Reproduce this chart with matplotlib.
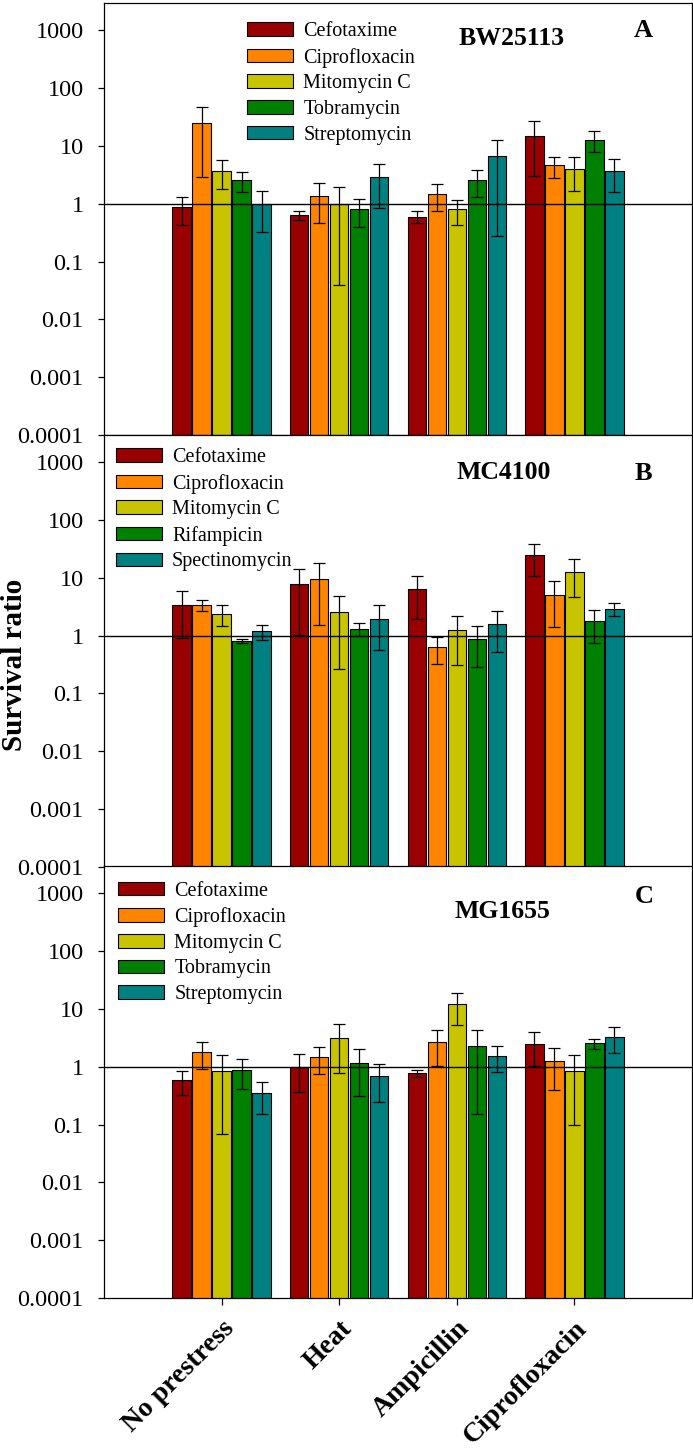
import numpy as np
import matplotlib
matplotlib.use("Agg")
from matplotlib import pyplot as plt

plt.rcParams['font.family'] = ['Liberation Serif', 'DejaVu Serif']

# pre-stress conditions (x groups)
prestress = ['No prestress', 'Heat', 'Ampicillin', 'Ciprofloxacin']
colors = ['#990000', '#ff8400', '#c8c400', '#008000', '#008080']

# panel A - BW25113
drugs_a = ['Cefotaxime', 'Ciprofloxacin', 'Mitomycin C', 'Tobramycin', 'Streptomycin']
mean_a = [[0.86, 0.64, 0.60, 15.0],
          [24.5, 1.37, 1.47, 4.6],
          [3.72, 1.0, 0.80, 3.98],
          [2.6, 0.81, 2.6, 12.8],
          [1.0, 2.85, 6.58, 3.72]]
err_a = [[0.43, 0.11, 0.14, 12.0],
         [21.6, 0.9, 0.73, 1.8],
         [1.9, 0.96, 0.37, 2.35],
         [1.0, 0.42, 1.28, 5.0],
         [0.68, 2.0, 6.3, 2.1]]

# panel B - MC4100
drugs_b = ['Cefotaxime', 'Ciprofloxacin', 'Mitomycin C', 'Rifampicin', 'Spectinomycin']
mean_b = [[3.4, 7.74, 6.34, 24.9],
          [3.4, 9.7, 0.63, 5.13],
          [2.4, 2.57, 1.24, 12.8],
          [0.82, 1.32, 0.875, 1.79],
          [1.2, 1.97, 1.59, 2.9]]
err_b = [[2.5, 6.7, 4.4, 14.3],
         [0.68, 8.2, 0.3, 3.7],
         [0.95, 2.3, 0.93, 8.1],
         [0.07, 0.33, 0.59, 1.04],
         [0.35, 1.4, 1.06, 0.7]]

# panel C - MG1655
drugs_c = ['Cefotaxime', 'Ciprofloxacin', 'Mitomycin C', 'Tobramycin', 'Streptomycin']
mean_c = [[0.59, 1.0, 0.777, 2.5],
          [1.79, 1.49, 2.67, 1.25],
          [0.84, 3.18, 12.2, 0.85],
          [0.89, 1.16, 2.25, 2.54],
          [0.35, 0.69, 1.53, 3.31]]
err_c = [[0.26, 0.63, 0.11, 1.45],
         [0.89, 0.74, 1.63, 0.86],
         [0.77, 2.4, 7.0, 0.75],
         [0.47, 0.85, 2.1, 0.5],
         [0.2, 0.44, 0.72, 1.6]]

panels = [
    ('BW25113', 'A', drugs_a, mean_a, err_a, (0.243, 0.956), (0.694, 0.919), (0.917, 0.937)),
    ('MC4100', 'B', drugs_b, mean_b, err_b, (0.020, 0.970), (0.680, 0.913), (0.918, 0.910)),
    ('MG1655', 'C', drugs_c, mean_c, err_c, (0.024, 0.964), (0.677, 0.894), (0.918, 0.930)),
]


def draw_panel(ax, strain, letter, drugs, means, errs, leg_pos, strain_pos, letter_pos):
    x = np.arange(len(prestress))
    step = 0.17
    for i, drug in enumerate(drugs):
        pos = x + (i - 2) * step
        ax.bar(pos, means[i], width=0.155, bottom=1e-5, color=colors[i],
               edgecolor='black', linewidth=0.8, label=drug, zorder=2)
        ax.errorbar(pos, means[i], yerr=errs[i], fmt='none', ecolor='black',
                    elinewidth=0.9, capsize=4.5, capthick=0.9, zorder=3)
    ax.axhline(1, color='black', linewidth=1.0, zorder=4)
    ax.set_yscale('log')
    ax.set_ylim(1e-4, 10 ** 3.47)
    ax.set_xlim(-1.0, 4.0)
    ax.set_yticks([1e-4, 1e-3, 1e-2, 1e-1, 1, 10, 100, 1000])
    ax.set_yticklabels(['0.0001', '0.001', '0.01', '0.1', '1', '10', '100', '1000'])
    ax.minorticks_off()
    ax.tick_params(axis='y', direction='out', length=4.5, width=0.9,
                   labelsize=17.5, pad=10)
    for sp in ax.spines.values():
        sp.set_linewidth(0.9)
    ax.legend(loc='upper left', bbox_to_anchor=leg_pos, frameon=False,
              fontsize=14.5, handlelength=2.3, handleheight=0.66,
              handletextpad=0.5, labelspacing=0.33, borderpad=0,
              borderaxespad=0)
    ax.text(strain_pos[0], strain_pos[1], strain, transform=ax.transAxes,
            ha='center', va='center', fontsize=18.5, fontweight='bold')
    ax.text(letter_pos[0], letter_pos[1], letter, transform=ax.transAxes,
            ha='center', va='center', fontsize=19, fontweight='bold')


def main():
    fig = plt.figure(figsize=(6.93, 14.51), dpi=100)
    left, width = 0.150, 0.8486
    bottoms = [0.7002, 0.4025, 0.1054]
    height = 0.2977
    axes = []
    for b, p in zip(bottoms, panels):
        ax = fig.add_axes([left, b, width, height])
        draw_panel(ax, *p)
        axes.append(ax)

    for ax in axes[:2]:
        ax.set_xticks([])
    axes[2].set_xticks(np.arange(len(prestress)))
    axes[2].set_xticklabels(prestress, rotation=45, ha='right',
                            rotation_mode='anchor', fontsize=20,
                            fontweight='bold')
    axes[2].tick_params(axis='x', direction='out', length=5, width=0.9, pad=8)

    fig.text(0.021, 0.5417, 'Survival ratio', rotation=90, ha='center',
             va='center', fontsize=21, fontweight='bold')

    fig.savefig('out.png', dpi=100)


if __name__ == "__main__":
    main()
